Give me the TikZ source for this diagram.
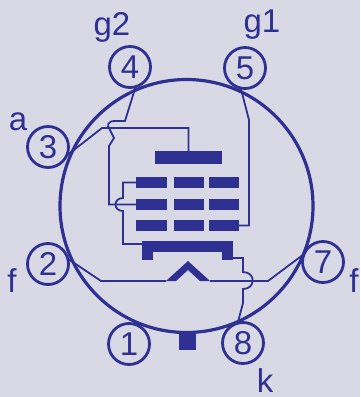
\documentclass[tikz,border=0pt]{standalone}
\usepackage{fontspec}
\setmainfont{Liberation Sans}
\definecolor{tubeblue}{HTML}{2E3192}
\definecolor{tubebg}{HTML}{D9D9E6}
\begin{document}
\begin{tikzpicture}[x=1pt, y=-1pt, tubeblue]

        \tikzstyle{pin} = [circle, draw, line width=2.8pt, minimum size=41pt, inner sep=0pt, outer sep=0pt, font=\fontsize{33}{33}\selectfont]
        \tikzstyle{label} = [inner sep=0pt, font=\fontsize{33}{33}\selectfont]
        \tikzstyle{bar} = [rectangle, fill, inner sep=0pt, outer sep=0pt]
        \tikzstyle{gridbar} = [bar, minimum height=11pt]
        \tikzstyle{wire} = [line width=1.8pt, line join=miter]

        \fill [tubebg] (0,0) rectangle (360,397);
        \useasboundingbox (0,0) rectangle (360,397);

        \draw [line width=3.2pt] (186.5,206) circle [radius=126.5pt];

        \node [pin] (pin1) at (129,344) {1};
        \node [pin] (pin2) at (48,264) {2};
        \node [pin] (pin3) at (48,147) {3};
        \node [pin] (pin4) at (130,67) {4};
        \node [pin] (pin5) at (245,68) {5};
        \node [pin] (pin7) at (323,262) {7};
        \node [pin] (pin8) at (243,343) {8};

        \node [label] (lg2) at (112,27) {g2};
        \node [label] (lg1) at (262,25) {g1};
        \node [label] (la) at (18,122) {a};
        \node [label] (lfl) at (12,281) {f};
        \node [label] (lfr) at (354,281) {f};
        \node [label] (lk) at (265,381) {k};

        \node [bar, minimum width=67pt, minimum height=13pt] (plate) at (188.5,157.5) {};

        \node [gridbar, minimum width=31pt] (g1a) at (151.5,182.5) {};
        \node [gridbar, minimum width=30pt] (g1b) at (189,182.5) {};
        \node [gridbar, minimum width=30pt] (g1c) at (224,182.5) {};
        \node [gridbar, minimum width=31pt] (g2a) at (151.5,204.5) {};
        \node [gridbar, minimum width=30pt] (g2b) at (189,204.5) {};
        \node [gridbar, minimum width=30pt] (g2c) at (224,204.5) {};
        \node [gridbar, minimum width=31pt] (g3a) at (151.5,225.5) {};
        \node [gridbar, minimum width=30pt] (g3b) at (189,225.5) {};
        \node [gridbar, minimum width=30pt] (g3c) at (224,225.5) {};

        \node [bar, minimum width=91pt, minimum height=11.5pt] (cath) at (187.5,246.5) {};
        \node [bar, minimum width=11pt, minimum height=9pt] (cathl) at (147.5,255.5) {};
        \node [bar, minimum width=11pt, minimum height=9pt] (cathr) at (227.5,255.5) {};
        \node [bar, minimum width=17pt, minimum height=17pt] (key) at (187.5,341) {};

        \coordinate (cathin) at (142,244);
        \coordinate (cathout) at (233,258);
        \coordinate (heatl) at (166,281);
        \coordinate (heatr) at (210,281);
        \fill (heatl) -- (188,261) -- (heatr) -- (200,281) -- (188,270) -- (176,281) -- cycle;

        % anode
        \draw [wire] (pin3.-25) -- (102,128) -| (plate.north);
        % screen grid
        \draw [wire] (pin4.-74) -- (125,121) -- (115,121) .. controls (108,121) and (106,125) .. (110,130) -- (114,138) -- (109,146) |- (g2a.west);
        % control grid
        \draw [wire] (pin5.-102) -- (249,120) |- (g3c.east);
        % cathode
        \draw [wire] (g1a.west) -- (123,182.5) -- (123,198) .. controls (113,198) and (113,211) .. (123,211) |- (cathin);
        \draw [wire] (cathout) -- (243,258) -- (243,272) .. controls (256,272) and (256,289) .. (243,289) -- (243,303) -- (pin8.105);
        % heater
        \draw [wire] (pin2.15) -- (101,281) -- (heatl);
        \draw [wire] (heatr) -- (268,281) -- (pin7.157);

    \end{tikzpicture}
\end{document}
